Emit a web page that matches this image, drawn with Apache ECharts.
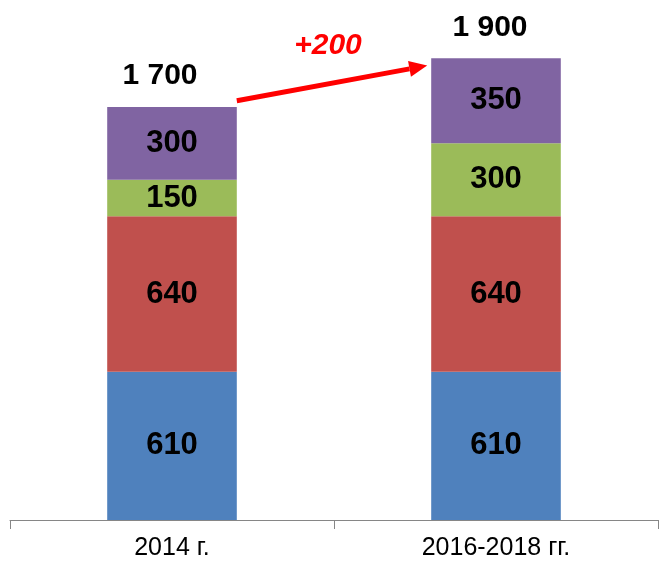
<!DOCTYPE html>
<html>
<head>
<meta charset="utf-8">
<script src="https://cdn.jsdelivr.net/npm/echarts@6/dist/echarts.min.js"></script>
<style>
  html, body { margin: 0; padding: 0; background: #fff; }
  #chart { width: 660px; height: 561px; }
</style>
</head>
<body>
<div id="chart"></div>
<script>
// категории
const categories = ["2014 г.", "2016-2018 гг."];
// сегменты столбцов снизу вверх
const blueValues = [610, 610];
const redValues = [640, 640];
const greenValues = [150, 300];
const purpleValues = [300, 350];
// итоги над столбцами
const totals = [1700, 1900];
const totalLabels = ["1 700", "1 900"];
const deltaLabel = "+200";

const colors = ["#4F81BD", "#C0504D", "#9BBB59", "#8064A2"];
const font = "Liberation Sans, Arial, sans-serif";

const chart = echarts.init(document.getElementById("chart"));

const segLabel = {
  show: true,
  position: "inside",
  color: "#000",
  fontFamily: font,
  fontWeight: "bold",
  fontSize: 31,
};

const makeSeries = (name, data, color) => ({
  name: name,
  type: "bar",
  stack: "total",
  data: data,
  barWidth: "40%",
  itemStyle: { color: color },
  label: segLabel,
});

// сдвиг подписей итогов по x
const totalShift = [-12, -6];

const options = {
  animation: false,
  grid: {
    left: 10,
    right: 2,
    top: 34,
    bottom: 41,
  },
  xAxis: {
    type: "category",
    data: categories,
    axisLine: { lineStyle: { color: "#868686", width: 1 } },
    axisTick: { show: true, length: 9, lineStyle: { color: "#868686" } },
    axisLabel: {
      color: "#000",
      fontSize: 25,
      fontFamily: font,
      margin: 16,
    },
  },
  yAxis: {
    type: "value",
    min: 0,
    max: 2000,
    show: false,
  },
  series: [
    makeSeries("blue", blueValues, colors[0]),
    makeSeries("red", redValues, colors[1]),
    makeSeries("green", greenValues, colors[2]),
    makeSeries("purple", purpleValues, colors[3]),
    {
      // подписи итогов
      type: "scatter",
      data: totals.map((v, i) => ({
        value: v,
        label: { offset: [totalShift[i], -16] },
      })),
      symbolSize: 0,
      itemStyle: { color: "transparent", opacity: 1 },
      label: {
        show: true,
        position: "top",
        distance: 0,
        color: "#000",
        fontFamily: font,
        fontWeight: "bold",
        fontSize: 30,
        formatter: (p) => totalLabels[p.dataIndex],
      },
    },
  ],
};

chart.setOption(options);

// стрелка прироста между столбцами
const p0 = chart.convertToPixel({ gridIndex: 0 }, [0, 1725]);
const p1 = chart.convertToPixel({ gridIndex: 0 }, [1, 1870]);
const halfBar = (chart.getWidth() - 12) / categories.length * 0.2;
const x0 = p0[0] + halfBar;
const y0 = p0[1];
const x1 = p1[0] - halfBar - 4;
const y1 = p1[1];
const ang = Math.atan2(y1 - y0, x1 - x0);
const headLen = 18, headW = 8;
const bx = x1 - headLen * Math.cos(ang), by = y1 - headLen * Math.sin(ang);

chart.setOption({
  graphic: [
    {
      type: "line",
      shape: { x1: x0, y1: y0, x2: bx, y2: by },
      style: { stroke: "#FF0000", lineWidth: 5 },
    },
    {
      type: "polygon",
      shape: {
        points: [
          [x1, y1],
          [bx + headW * Math.sin(ang), by - headW * Math.cos(ang)],
          [bx - headW * Math.sin(ang), by + headW * Math.cos(ang)],
        ],
      },
      style: { fill: "#FF0000" },
    },
    {
      type: "text",
      x: 328,
      y: 46,
      style: {
        text: deltaLabel,
        fill: "#FF0000",
        font: "italic bold 30px " + font,
        align: "center",
        verticalAlign: "middle",
      },
    },
  ],
});
</script>
</body>
</html>
